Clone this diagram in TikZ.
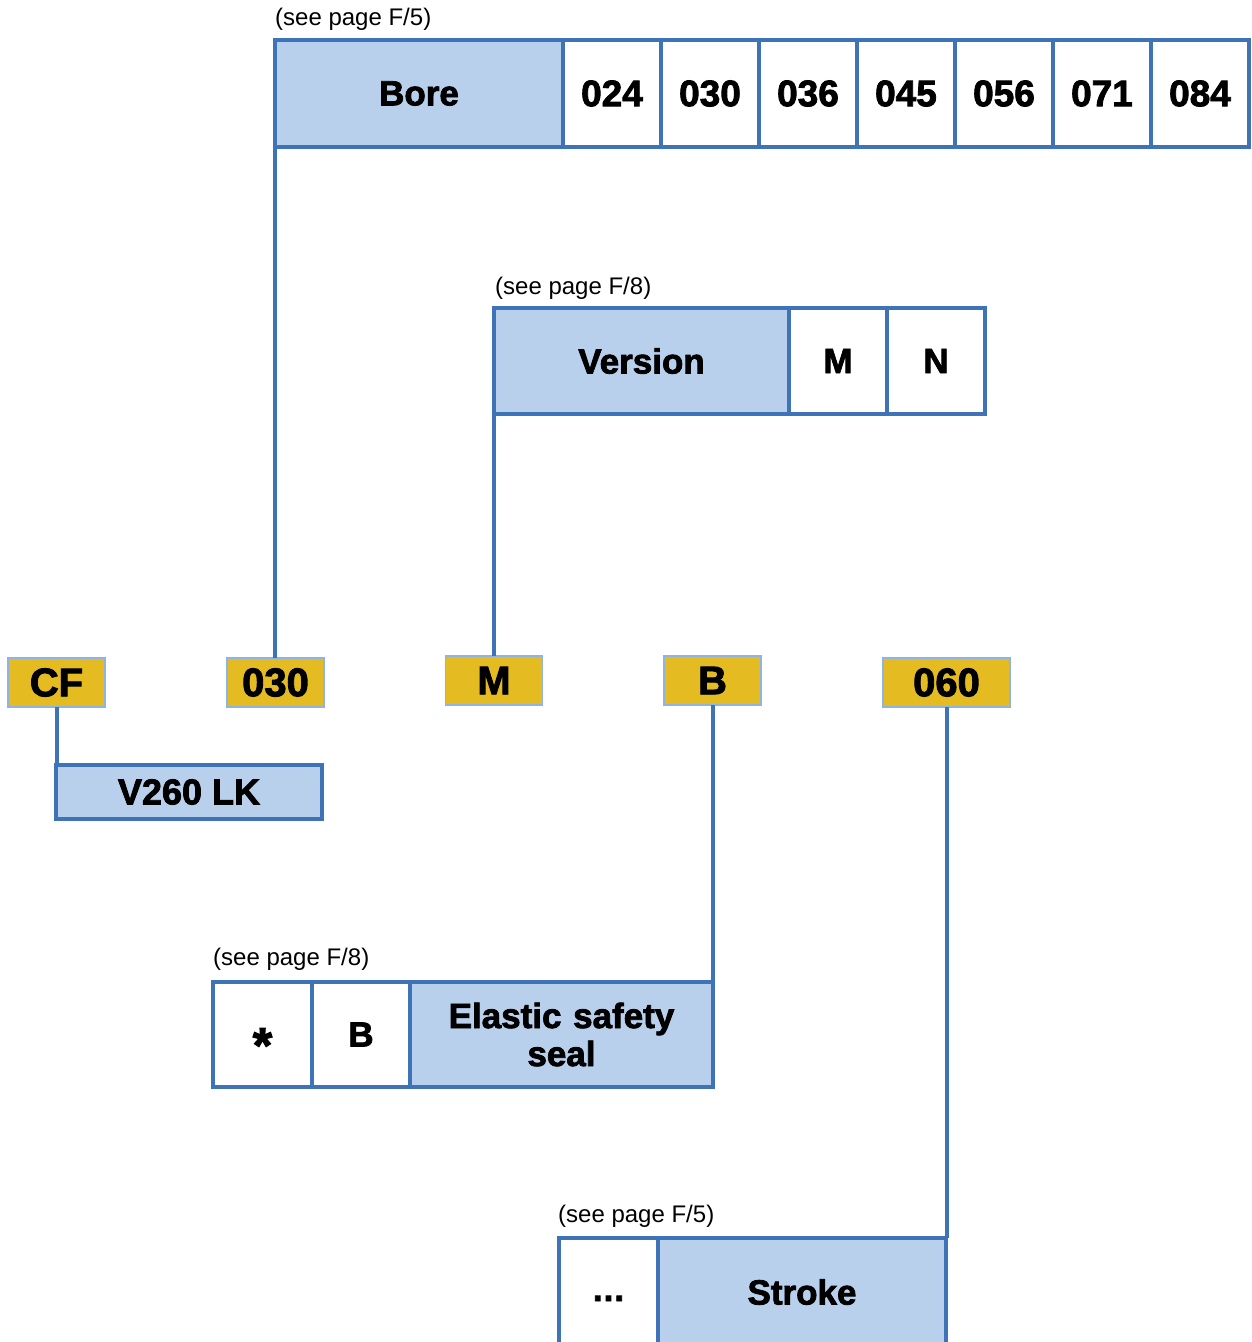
\documentclass[tikz,border=0pt]{standalone}
\usepackage{fontspec}
\setmainfont{Liberation Sans}[BoldFeatures={FakeBold=2.2}]
\definecolor{bblue}{HTML}{3F73B8}
\definecolor{lblue}{HTML}{B9D0EC}
\definecolor{gold}{HTML}{E4BB21}
\definecolor{ybord}{HTML}{8EB4E3}
\begin{document}
\begin{tikzpicture}[x=1pt,y=-1pt,
  big/.style={font=\fontsize{35}{38}\selectfont\bfseries},
  cell/.style={draw=bblue, line width=4pt, fill=white, inner sep=0pt, outer sep=0pt, big, align=center},
  head/.style={cell, fill=lblue},
  num/.style={cell, font=\fontsize{37}{38}\selectfont\bfseries},
  code/.style={draw=ybord, line width=1.8pt, fill=gold, inner sep=0pt, outer sep=0pt, font=\fontsize{40}{42}\selectfont\bfseries, minimum height=49, minimum width=97},
  note/.style={anchor=west, inner sep=0pt, font=\fontsize{24}{26}\selectfont},
  link/.style={draw=bblue, line width=4pt}]
\useasboundingbox (0,0) rectangle (1252,1342);
% Bore row
\node[note] (n1) at (275,19) {(see page F/5)};
\node[head, minimum width=288, minimum height=107] (bore) at (419,93.5) {Bore};
\foreach \v/\x in {024/612,030/710,036/808,045/906,056/1004,071/1102,084/1200}
  \node[num, minimum width=98, minimum height=107] (b\v) at (\x,93.5) {\v};
% Version row
\node[note] (n2) at (495,288) {(see page F/8)};
\node[head, minimum width=295, minimum height=106] (version) at (641.5,361) {Version};
\node[cell, minimum width=98, minimum height=106] (vM) at (838,361) {M};
\node[cell, minimum width=98, minimum height=106] (vN) at (936,361) {N};
% code boxes
\node[code] (cf) at (56.5,682.5) {CF};
\node[code] (c030) at (275.5,682.5) {030};
\node[code] (cM) at (494,680.5) {M};
\node[code] (cB) at (712.5,680.5) {B};
\node[code, minimum width=127] (c060) at (946.5,682.5) {060};
% V260 LK
\node[head, minimum width=266, minimum height=54, font=\fontsize{36}{38}\selectfont\bfseries] (v260) at (189,792) {V260 LK};
% Elastic row
\node[note] (n3) at (213,959) {(see page F/8)};
\node[cell, minimum width=99, minimum height=105, font=\fontsize{50}{50}\selectfont\bfseries] (star) at (262.5,1034.5) {\raisebox{-28pt}[0pt][0pt]{*}};
\node[cell, minimum width=98, minimum height=105] (eB) at (361,1034.5) {B};
\node[head, minimum width=303, minimum height=105, text width=290] (elastic) at (561.5,1034.5) {Elastic safety\\seal};
% Stroke row
\node[note] (n4) at (558,1216) {(see page F/5)};
\node[cell, minimum width=99, minimum height=108] (dots) at (608.5,1292) {\raisebox{-9pt}[0pt][0pt]{.\kern1pt.\kern1pt.}};
\node[head, minimum width=288, minimum height=108] (stroke) at (802,1292) {Stroke};
% connectors
\draw[link] (bore.south west) -- (bore.south west |- c030.north);
\draw[link] (version.south west) -- (version.south west |- cM.north);
\draw[link] (cf.south) -- (cf.south |- v260.north);
\draw[link] (cB.south) -- (cB.south |- elastic.north);
\draw[link] (c060.south) -- (c060.south |- stroke.north);
\end{tikzpicture}
\end{document}
